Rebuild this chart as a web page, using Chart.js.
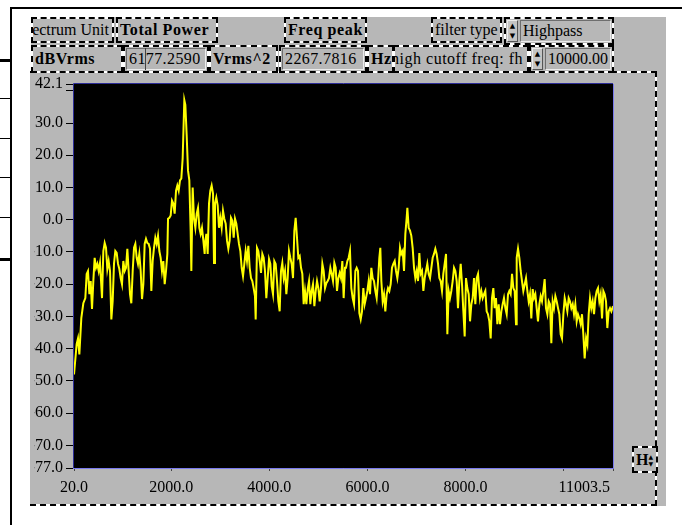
<!doctype html>
<html>
<head>
    <title>Spectrum</title>
    <script src="https://cdn.jsdelivr.net/npm/chart.js@4/dist/chart.umd.min.js"></script>
    <style>
        body { margin:0; background:#fff; font-family:"Liberation Serif", serif; }
        #wrap { position:relative; width:682px; height:525px; overflow:hidden; }
        .ln { position:absolute; background:#000; }
        .dash { position:absolute; box-sizing:border-box; border:2px dashed #000;
            background:linear-gradient(#b7b7b7,#b7b7b7) padding-box, linear-gradient(#fff,#fff) border-box;
            font-size:16px; white-space:nowrap; overflow:hidden; display:flex; align-items:center; padding-left:2px; }
        .b { font-weight:bold; letter-spacing:.6px; }
        .fld { position:absolute; box-sizing:border-box; border:1px solid; border-color:#6e6e6e #ececec #ececec #6e6e6e;
            background:#b7b7b7; font-size:16px; white-space:nowrap; overflow:hidden; display:flex; align-items:center; padding-left:2px; }
        .spin { position:absolute; box-sizing:border-box; border:1px solid; border-color:#ececec #555 #555 #ececec;
            font-family:"DejaVu Sans"; font-size:7px; line-height:10px; text-align:center; background:#c4c4c4; }
        #cv { position:absolute; left:31px; top:70px; }
    </style>
</head>
<body>
<div id="wrap">
    <div class="ln" style="left:10px;top:7px;width:672px;height:2px"></div>
    <div class="ln" style="left:10px;top:7px;width:2px;height:518px"></div>
    <div class="ln" style="left:0;top:59px;width:12px;height:3px"></div>
    <div class="ln" style="left:0;top:98px;width:10px;height:1px"></div>
    <div class="ln" style="left:0;top:138px;width:10px;height:1px"></div>
    <div class="ln" style="left:0;top:177px;width:10px;height:1px"></div>
    <div class="ln" style="left:0;top:217px;width:10px;height:1px"></div>
    <div class="ln" style="left:0;top:258px;width:12px;height:3px"></div>
    <div style="position:absolute;left:31px;top:17px;width:635px;height:489px;background:#b7b7b7"></div>

    <div class="dash" style="left:30px;top:71px;width:627px;height:435px;border-left:none"></div>

    <div class="dash" style="left:31px;top:17px;width:83px;height:26px;justify-content:flex-end;padding-right:3px">Spectrum Unit</div>
    <div class="dash b" style="left:116px;top:17px;width:102px;height:26px">Total Power</div>
    <div class="dash b" style="left:284px;top:17px;width:83px;height:26px">Freq peak</div>
    <div class="dash" style="left:431px;top:17px;width:71px;height:26px">filter type</div>
    <div class="dash" style="left:504px;top:17px;width:110px;height:28px"></div>
    <div class="spin" style="left:507px;top:20px;width:11px;height:22px">▲<br>▼</div>
    <div class="fld" style="left:520px;top:20px;width:91px;height:22px">Highpass</div>

    <div class="dash b" style="left:31px;top:45px;width:92px;height:28px">dBVrms</div>
    <div class="dash" style="left:123px;top:45px;width:86px;height:28px"></div>
    <div class="fld" style="left:126px;top:48px;width:80px;height:22px;letter-spacing:.4px">6177.2590</div>
    <div class="ln" style="left:145px;top:48px;width:1px;height:22px;background:#444"></div>
    <div class="dash b" style="left:209px;top:45px;width:69px;height:28px">Vrms^2</div>
    <div class="dash" style="left:279px;top:45px;width:88px;height:28px"></div>
    <div class="fld" style="left:282px;top:48px;width:82px;height:22px;letter-spacing:.4px">2267.7816</div>
    <div class="dash b" style="left:367px;top:45px;width:27px;height:28px">Hz</div>
    <div class="dash" style="left:393px;top:45px;width:136px;height:28px;justify-content:flex-end;padding-right:4px;letter-spacing:.5px">high cutoff freq: fh</div>
    <div class="dash" style="left:529px;top:45px;width:85px;height:28px"></div>
    <div class="spin" style="left:532px;top:48px;width:11px;height:22px">▲<br>▼</div>
    <div class="fld" style="left:545px;top:48px;width:66px;height:22px">10000.00</div>

    <div class="dash b" style="left:632px;top:446px;width:26px;height:27px;letter-spacing:0">H<span style="font-family:'DejaVu Sans';font-size:6px;line-height:7px;font-weight:normal">▲<br>▼</span></div>

    <canvas id="cv" width="633" height="430"></canvas>
</div>
<script>
    var freqHz = [
        20, 74, 102, 129, 169, 210, 251, 278, 305, 333,
        360, 387, 414, 441, 468, 496, 523, 550, 591, 618,
        645, 672, 699, 726, 754, 781, 808, 835, 862, 890,
        917, 944, 971, 998, 1025, 1053, 1080, 1107, 1134, 1161,
        1188, 1216, 1243, 1270, 1297, 1324, 1351, 1379, 1406, 1433,
        1460, 1487, 1514, 1542, 1569, 1596, 1623, 1650, 1677, 1705,
        1732, 1759, 1786, 1813, 1840, 1868, 1895, 1922, 1936, 1963,
        1990, 2017, 2044, 2071, 2099, 2126, 2153, 2180, 2207, 2234,
        2268, 2289, 2316, 2343, 2370, 2397, 2411, 2438, 2465, 2493,
        2520, 2547, 2574, 2601, 2628, 2656, 2683,
        2690, 2717, 2744, 2771, 2798, 2825, 2853, 2873, 2893, 2920,
        2948, 2975, 3002, 3029, 3056, 3083, 3111, 3138, 3165, 3192,
        3219, 3247, 3274, 3301, 3328, 3355, 3382, 3410, 3437, 3464,
        3491, 3518, 3545, 3573, 3600, 3627, 3654, 3681, 3708, 3722,
        3749, 3776, 3804, 3831, 3858, 3885, 3912, 3939, 3967, 3994,
        4021, 4048, 4075, 4102, 4130, 4157, 4184, 4211, 4238, 4265,
        4293, 4320, 4347, 4374, 4401, 4428, 4456, 4483, 4510, 4537,
        4564, 4591, 4619, 4646, 4673, 4700, 4727, 4755, 4782, 4809,
        4836, 4863, 4890, 4918, 4945, 4972, 4999, 5026, 5053, 5081,
        5108, 5135, 5162, 5189, 5216, 5244, 5271, 5298, 5325, 5352,
        5379, 5407, 5434, 5461, 5488, 5515, 5542,
        5563, 5590, 5617, 5644, 5671, 5699, 5726, 5753, 5780, 5807,
        5835, 5862, 5889, 5916, 5943, 5970, 5998, 6025, 6052, 6079,
        6106, 6133, 6161, 6188, 6215, 6242, 6262,
        6283, 6310, 6337, 6364, 6392, 6419, 6446, 6473, 6500, 6527,
        6555, 6582, 6609, 6636, 6663, 6690, 6718, 6745, 6772, 6799, 6813,
        6840, 6867, 6894, 6921, 6949, 6976, 7003, 7030, 7057, 7084,
        7112, 7139, 7166, 7193, 7220, 7247, 7275, 7302, 7329, 7356,
        7383, 7410, 7438, 7465, 7492, 7519, 7546, 7573, 7601, 7628,
        7655, 7682, 7709, 7737, 7764, 7791, 7818, 7845, 7872, 7900,
        7927, 7954, 7981, 8008, 8035, 8063, 8090, 8117, 8144, 8171,
        8198, 8226, 8253,
        8293, 8321, 8348, 8375, 8402, 8429, 8456, 8484, 8511, 8538,
        8565, 8592, 8619, 8647, 8674, 8701, 8728, 8755, 8782, 8810,
        8837, 8864, 8891, 8918, 8946, 8973, 9000, 9027, 9041, 9068,
        9095, 9122, 9149, 9176, 9204, 9231, 9258, 9285, 9312, 9339,
        9367, 9394, 9421, 9448, 9475, 9503, 9530, 9557, 9584, 9611,
        9638, 9666, 9693, 9720, 9747, 9774, 9801, 9829, 9856, 9883,
        9910, 9937, 9964, 9992, 10019, 10046, 10073, 10100, 10127, 10155,
        10182, 10209, 10236, 10263, 10290, 10318, 10345, 10372, 10399, 10426,
        10454, 10481, 10508, 10535, 10562, 10589, 10617, 10644, 10671, 10698,
        10725, 10752, 10780, 10807, 10834, 10861, 10888, 10915, 10943, 10970,
        11003.5
    ];
    var levelDb = [
        -48.0, -38.6, -36.8, -41.8, -30.5, -25.9, -24.3, -16.8, -15.9, -23.1,
        -19.0, -27.7, -19.0, -11.8, -14.9, -13.7, -15.9, -13.4, -24.3, -9.7,
        -7.2, -8.7, -15.3, -12.8, -15.9, -30.9, -25.3, -13.7, -9.7, -10.3,
        -13.7, -15.3, -18.1, -20.0, -12.8, -15.9, -14.9, -9.0, -15.9, -23.1,
        -25.9, -15.9, -8.7, -7.5, -11.8, -13.7, -10.6, -15.9, -24.6, -20.0,
        -7.5, -5.9, -7.2, -7.5, -9.0, -22.1, -12.8, -8.7, -5.6, -7.5,
        -5.0, -9.7, -11.8, -15.9, -12.8, -20.0, -15.9, -10.6, 0.3, 0.6,
        1.3, 5.9, 5.0, 1.9, 9.0, 10.6, 9.0, 12.2, 12.8, 19.0,
        37.1, 35.6, 26.2, 15.3, 12.2, -3.4, -15.9, 10.0, 0.6, -2.5,
        1.9, 3.7, -2.5, -4.4, -2.5, -6.5, -10.6,
        -7.5, -4.4, -10.6, 5.0, 9.0, 10.6, 8.1, -13.4, 5.0, 6.9,
        4.4, -2.5, 0.6, -2.5, 2.8, 0.3, -1.2, -6.5, -9.0, -6.5,
        0.6, -0.3, -5.6, 0.3, -1.2, -4.4, -7.5, -9.7, -14.9, -17.5,
        -13.7, -9.7, -12.8, -8.1, -14.9, -18.1, -19.0, -21.2, -23.7, -30.9,
        -8.7, -9.7, -12.8, -16.5, -10.6, -11.8, -15.9, -24.3, -18.1, -12.2,
        -13.7, -20.6, -23.1, -12.8, -13.7, -19.0, -25.3, -28.4, -15.9, -13.4,
        -18.1, -15.9, -23.1, -18.1, -9.7, -11.8, -13.7, -18.1, -3.4, 0.6,
        -5.6, -11.8, -11.2, -14.9, -16.8, -26.2, -22.1, -26.2, -21.5, -19.0,
        -26.2, -22.1, -20.0, -26.8, -22.1, -19.0, -21.2, -25.3, -21.2, -13.7,
        -15.9, -21.2, -19.7, -19.0, -18.1, -14.9, -16.8, -19.0, -13.4, -14.9,
        -22.1, -18.1, -16.5, -18.1, -12.8, -24.3, -14.9,
        -14.9, -12.8, -11.8, -9.7, -21.2, -24.3, -26.2, -15.9, -14.9, -15.9,
        -29.0, -30.9, -28.4, -21.2, -26.2, -24.3, -22.1, -19.0, -23.1, -14.9,
        -18.1, -19.0, -22.1, -24.3, -19.0, -11.8, -8.7,
        -19.0, -25.3, -23.1, -28.4, -23.1, -21.2, -22.1, -20.0, -14.9, -13.7,
        -12.8, -15.9, -18.1, -14.9, -8.7, -10.6, -9.7, -15.9, -4.4, 0.6, 3.7,
        -2.5, -3.4, -5.0, -8.7, -14.9, -18.1, -15.9, -19.0, -10.3, -16.8,
        -15.9, -22.1, -18.1, -15.9, -13.7, -16.8, -18.1, -14.9, -11.8, -10.6,
        -9.0, -10.6, -13.7, -18.1, -19.0, -22.1, -16.8, -13.7, -10.6, -35.5,
        -22.1, -24.3, -22.1, -19.0, -14.9, -15.9, -19.0, -27.4, -19.0, -13.7,
        -20.0, -28.4, -36.2, -18.1, -21.2, -23.1, -31.5, -26.2, -24.3, -18.1,
        -26.2, -18.1, -16.8,
        -24.3, -22.1, -24.3, -23.1, -22.1, -28.4, -29.3, -31.5, -36.8, -24.3,
        -21.2, -27.4, -24.3, -32.4, -26.2, -32.4, -28.4, -26.2, -24.3, -27.4,
        -29.3, -23.1, -22.1, -23.1, -16.8, -21.2, -22.1, -32.4, -11.8, -9.0,
        -11.8, -15.9, -19.0, -22.1, -20.0, -18.1, -22.1, -25.3, -23.1, -30.6,
        -21.5, -24.3, -23.1, -27.4, -31.5, -26.2, -23.7, -25.3, -22.1, -18.4,
        -27.4, -29.3, -25.3, -26.2, -38.3, -25.3, -27.4, -23.7, -25.3, -27.4,
        -29.3, -35.5, -36.8, -29.3, -24.3, -26.2, -28.4, -24.3, -25.3, -27.4,
        -26.2, -29.3, -26.2, -31.5, -29.3, -30.6, -32.4, -29.3, -35.5, -43.0,
        -36.8, -38.7, -29.3, -24.3, -27.4, -25.3, -29.3, -24.3, -22.1, -21.2,
        -25.3, -23.1, -30.6, -22.1, -23.1, -25.3, -33.6, -28.4, -27.4, -28.4,
        -26.8
    ];
    var yTicks = [42.1, 40, 30, 20, 10, 0, -10, -20, -30, -40, -50, -60, -70, -77];
    var xTicks = [20, 2000, 4000, 6000, 8000, 10000, 11003.5];
    var xTickLabels = ['20.0', '2000.0', '4000.0', '6000.0', '8000.0', '', '11003.5'];

    var tickFont = '16px "Liberation Serif"';

    // black plot, bevelled blue frame, x labels; y labels clipped on the left like the panel does
    var panel = {
        id: 'panel',
        beforeDraw: function(chart) {
            var ctx = chart.ctx, a = chart.chartArea;
            ctx.fillStyle = '#000';
            ctx.fillRect(a.left, a.top, a.right - a.left, a.bottom - a.top);
            ctx.save();
            ctx.font = tickFont;
            var clipX = a.left - 8 - 3 - ctx.measureText('30.0').width - 0.5;
            ctx.beginPath();
            ctx.rect(clipX, 0, chart.width - clipX, chart.height);
            ctx.clip();
        },
        afterDraw: function(chart) {
            var ctx = chart.ctx, a = chart.chartArea, xs = chart.scales.x;
            ctx.restore();
            ctx.lineWidth = 1;
            ctx.strokeStyle = '#2c2c96';
            ctx.beginPath();
            ctx.moveTo(a.left - 0.5, a.bottom);
            ctx.lineTo(a.left - 0.5, a.top - 0.5);
            ctx.lineTo(a.right, a.top - 0.5);
            ctx.stroke();
            ctx.strokeStyle = '#7a7aee';
            ctx.beginPath();
            ctx.moveTo(a.right + 0.5, a.top);
            ctx.lineTo(a.right + 0.5, a.bottom + 0.5);
            ctx.lineTo(a.left - 1, a.bottom + 0.5);
            ctx.stroke();

            ctx.font = tickFont;
            ctx.fillStyle = '#000';
            ctx.textBaseline = 'middle';
            xTicks.forEach(function(v, i) {
                if (!xTickLabels[i]) return;
                var px = xs.getPixelForValue(v);
                var last = i === xTicks.length - 1;
                ctx.textAlign = last ? 'right' : 'center';
                ctx.fillText(xTickLabels[i], last ? px - 3 : px, a.bottom + 20);
            });
        }
    };

    var points = freqHz.map(function(f, i) { return {x: f, y: levelDb[i]}; });

    window.onload = function() {
        var ctx = document.getElementById('cv').getContext('2d');
        window.myLine = new Chart(ctx, {
            type: 'line',
            data: {
                datasets: [{
                    data: points, borderColor: '#ffff00', borderWidth: 2,
                    pointRadius: 0, tension: 0, fill: false
                }]
            },
            options: {
                responsive: false, animation: false, events: [],
                layout: {padding: {left: 0, right: 51, top: 14, bottom: 0}},
                plugins: {legend: {display: false}, tooltip: {enabled: false}},
                scales: {
                    x: {
                        type: 'linear', min: 20, max: 11003.5,
                        afterBuildTicks: function(s) { s.ticks = xTicks.map(function(v) { return {value: v}; }); },
                        afterFit: function(s) { s.height = 32; },
                        ticks: {display: false},
                        grid: {drawOnChartArea: false, tickLength: 3, tickColor: '#444', color: '#444'},
                        border: {display: false}
                    },
                    y: {
                        min: -77, max: 42.1,
                        afterBuildTicks: function(s) { s.ticks = yTicks.map(function(v) { return {value: v}; }); },
                        afterFit: function(s) { s.width = 43; },
                        ticks: {
                            autoSkip: false, color: '#000', padding: 3,
                            font: {family: 'Liberation Serif', size: 16},
                            callback: function(v) { return v === 40 ? '' : Number(v).toFixed(1); }
                        },
                        grid: {drawOnChartArea: false, tickLength: 8, tickColor: '#000', color: '#000'},
                        border: {display: false}
                    }
                }
            },
            plugins: [panel]
        });
    };
</script>
</body>
</html>
